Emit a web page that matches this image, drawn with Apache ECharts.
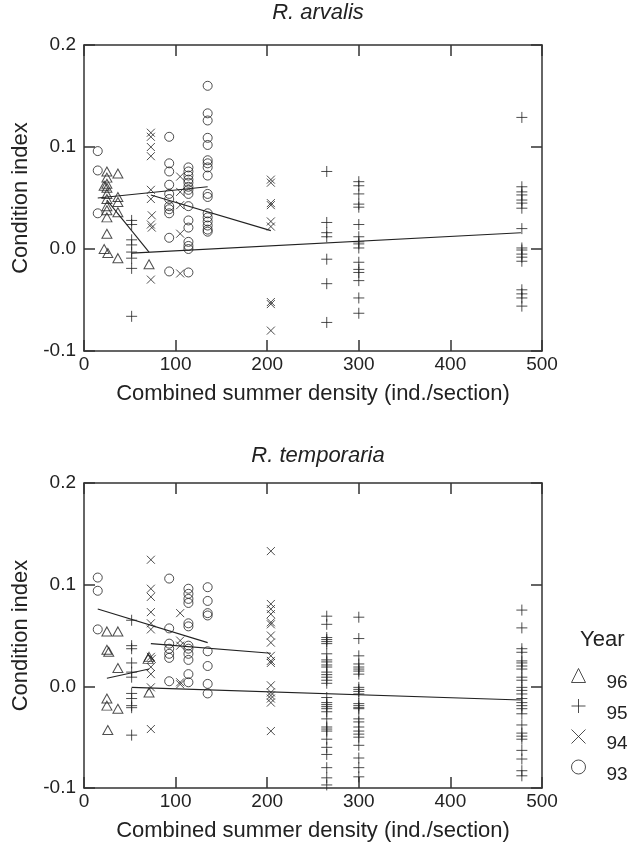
<!DOCTYPE html>
<html><head><meta charset="utf-8">
<script src="https://cdn.jsdelivr.net/npm/echarts@6/dist/echarts.min.js"></script>
<style>html,body{margin:0;padding:0;background:#fff}#c{width:630px;height:847px}</style>
</head><body><div id="c"></div>
<script>
const years = ['96', '95', '94', '93'];
const xTicks = [0, 100, 200, 300, 400, 500];
const yTicks = [-0.1, 0.0, 0.1, 0.2];
const panelTitles = ['R. arvalis', 'R. temporaria'];
const xTitle = 'Combined summer density (ind./section)';
const yTitle = 'Condition index';
const legendTitle = 'Year';

// ---- R. arvalis ----
const arv96 = [[25,0.076],[37,0.074],[25,0.070],[22,0.062],[25,0.064],[25,0.060],[25,0.054],[37,0.051],[25,0.049],[37,0.046],[25,0.042],[25,0.038],[37,0.036],[25,0.031],[25,0.015],[22,0.000],[26,-0.004],[37,-0.009],[71,-0.015]];
const arv95 = [[52,0.028],[52,0.024],[52,0.009],[52,0.004],[52,-0.003],[52,-0.009],[52,-0.019],[52,-0.066],
  [265,0.076],[265,0.026],[265,0.016],[265,0.012],[265,-0.010],[265,-0.034],[265,-0.072],
  [300,0.066],[300,0.062],[300,0.054],[300,0.044],[300,0.041],[300,0.024],[300,0.012],[300,0.007],[300,0.005],[300,0.001],[300,-0.013],[300,-0.020],[300,-0.023],[300,-0.031],[300,-0.048],[300,-0.063],
  [478,0.129],[478,0.061],[478,0.056],[478,0.053],[478,0.048],[478,0.045],[478,0.040],[478,0.020],[478,0.001],[478,-0.001],[478,-0.005],[478,-0.008],[478,-0.012],[478,-0.040],[478,-0.044],[478,-0.048],[478,-0.056]];
const arv94 = [[73,0.114],[73,0.110],[73,0.100],[73,0.091],[73,0.058],[73,0.049],[74,0.033],[73,0.024],[74,0.021],[73,-0.030],
  [105,0.071],[105,0.056],[105,0.043],[105,0.015],[105,-0.024],
  [204,0.068],[204,0.065],[204,0.045],[204,0.043],[204,0.027],[204,0.022],[204,-0.052],[204,-0.054],[204,-0.080]];
const arv93 = [[15,0.096],[15,0.077],[15,0.035],
  [93,0.110],[93,0.084],[93,0.076],[93,0.063],[93,0.054],[93,0.049],[93,0.042],[93,0.039],[93,0.035],[93,0.011],[93,-0.022],
  [114,0.080],[114,0.076],[114,0.072],[114,0.068],[114,0.065],[114,0.061],[114,0.058],[114,0.054],[114,0.042],[114,0.028],[114,0.021],[114,0.007],[114,0.003],[114,0.000],[114,-0.023],
  [135,0.160],[135,0.133],[135,0.126],[135,0.109],[135,0.102],[135,0.087],[135,0.084],[135,0.080],[135,0.072],[135,0.054],[135,0.051],[135,0.035],[135,0.031],[135,0.027],[135,0.023],[135,0.019],[135,0.017]];
const arvFit96 = [[25,0.048],[71,-0.003]];
const arvFit95 = [[52,-0.004],[477,0.016]];
const arvFit94 = [[73,0.053],[204,0.018]];
const arvFit93 = [[15,0.050],[135,0.061]];

// ---- R. temporaria ----
const tem96 = [[25,0.054],[37,0.054],[25,0.036],[27,0.034],[37,0.018],[25,-0.012],[25,-0.019],[37,-0.022],[26,-0.043],[71,0.029],[70,0.027],[71,-0.006]];
const tem95 = [[52,0.065],[52,0.040],[52,0.037],[52,0.023],[52,0.014],[52,0.009],[52,-0.007],[52,-0.012],[52,-0.019],[52,-0.021],[52,-0.048],
  [265,0.069],[265,0.061],[265,0.048],[265,0.046],[265,0.044],[265,0.042],[265,0.032],[265,0.026],[265,0.024],[265,0.021],[265,0.019],[265,0.014],[265,0.0115],[265,0.009],[265,0.006],[265,0.003],[265,-0.011],[265,-0.016],[265,-0.018],[265,-0.020],[265,-0.022],[265,-0.025],[265,-0.032],[265,-0.040],[265,-0.042],[265,-0.044],[265,-0.052],[265,-0.060],[265,-0.067],[265,-0.080],[265,-0.090],[265,-0.097],
  [300,0.068],[300,0.047],[300,0.030],[300,0.022],[300,0.019],[300,0.017],[300,0.015],[300,0.012],[300,-0.001],[300,-0.003],[300,-0.005],[300,-0.0075],[300,-0.017],[300,-0.019],[300,-0.021],[300,-0.022],[300,-0.032],[300,-0.035],[300,-0.040],[300,-0.044],[300,-0.047],[300,-0.050],[300,-0.058],[300,-0.0705],[300,-0.080],[300,-0.089],
  [478,0.075],[478,0.0575],[478,0.037],[478,0.0335],[478,0.025],[478,0.023],[478,0.020],[478,0.017],[478,0.009],[478,0.006],[478,-0.001],[478,-0.004],[478,-0.0075],[478,-0.012],[478,-0.016],[478,-0.019],[478,-0.022],[478,-0.027],[478,-0.038],[478,-0.046],[478,-0.049],[478,-0.052],[478,-0.063],[478,-0.0715],[478,-0.083],[478,-0.088]];
const tem94 = [[73,0.1245],[73,0.096],[73,0.088],[73,0.073],[73,0.062],[73,0.056],[73,0.029],[74,0.027],[73,0.019],[73,0.012],[73,-0.001],[73,-0.042],
  [105,0.072],[105,0.045],[105,0.040],[105,0.004],[105,0.002],
  [204,0.133],[204,0.081],[204,0.076],[204,0.071],[204,0.063],[204,0.061],[204,0.050],[204,0.043],[204,0.030],[204,0.025],[204,0.023],[204,0.001],[204,-0.006],[204,-0.009],[204,-0.012],[204,-0.016],[204,-0.044]];
const tem93 = [[15,0.107],[15,0.094],[15,0.056],
  [93,0.106],[93,0.057],[93,0.042],[93,0.037],[93,0.032],[93,0.028],[93,0.005],
  [114,0.096],[114,0.091],[114,0.086],[114,0.082],[114,0.062],[114,0.059],[114,0.040],[114,0.037],[114,0.032],[114,0.026],[114,0.012],[114,0.004],
  [135,0.0975],[135,0.084],[135,0.072],[135,0.0697],[135,0.0345],[135,0.020],[135,0.0024],[135,-0.007]];
const temFit96 = [[25,0.008],[71,0.017]];
const temFit95 = [[52,-0.001],[477,-0.0135]];
const temFit94 = [[73,0.042],[204,0.0325]];
const temFit93 = [[15,0.076],[135,0.043]];

const panels = [
  {pts: [arv96, arv95, arv94, arv93], fits: [arvFit96, arvFit95, arvFit94, arvFit93]},
  {pts: [tem96, tem95, tem94, tem93], fits: [temFit96, temFit95, temFit94, temFit93]}
];

const FONT = '"Liberation Sans", Arial, Helvetica, sans-serif';
const INK = '#222';
const symbols = ['triangle', 'path://M0,6L12,6M6,0L6,12', 'path://M0,0L10,10M10,0L0,10', 'circle'];
const sizes = [[10, 9], 11, 8, 9];
const hollow = {color: 'rgba(0,0,0,0)', borderColor: INK, borderWidth: 1};

const axisLineStyle = {color: '#333', width: 1.5};
const grids = [
  {left: 84, top: 45, width: 458, height: 306},
  {left: 84, top: 483, width: 458, height: 305}
];
const xAxes = [], yAxes = [], series = [];
grids.forEach((g, i) => {
  const common = {gridIndex: i, type: 'value', splitLine: {show: false},
    axisLine: {show: true, onZero: false, lineStyle: axisLineStyle},
    axisTick: {show: true, inside: true, length: 11, lineStyle: axisLineStyle}};
  xAxes.push(Object.assign({}, common, {position: 'bottom', min: xTicks[0], max: xTicks[xTicks.length - 1], interval: xTicks[1] - xTicks[0],
    axisLabel: {fontSize: 19, color: INK, fontFamily: FONT, margin: 4},
    name: xTitle, nameLocation: 'middle', nameGap: 32,
    nameTextStyle: {fontSize: 22, color: INK, fontFamily: FONT}}));
  xAxes.push(Object.assign({}, common, {position: 'top', min: xTicks[0], max: xTicks[xTicks.length - 1], interval: xTicks[1] - xTicks[0],
    axisLabel: {show: false}}));
  yAxes.push(Object.assign({}, common, {position: 'left', min: yTicks[0], max: yTicks[yTicks.length - 1], interval: 0.1,
    axisLabel: {fontSize: 19, color: INK, fontFamily: FONT, margin: 8, formatter: v => v.toFixed(1)},
    name: yTitle, nameLocation: 'middle', nameGap: 51,
    nameTextStyle: {fontSize: 22, color: INK, fontFamily: FONT}}));
  yAxes.push(Object.assign({}, common, {position: 'right', min: yTicks[0], max: yTicks[yTicks.length - 1], interval: 0.1,
    axisLabel: {show: false}}));
  const p = panels[i];
  years.forEach((yr, k) => {
    series.push({type: 'scatter', name: yr, xAxisIndex: 2 * i, yAxisIndex: 2 * i,
      data: p.pts[k], symbol: symbols[k], symbolSize: sizes[k], itemStyle: hollow,
      emphasis: {disabled: true}, z: 3});
    series.push({type: 'line', name: 'fit' + yr, xAxisIndex: 2 * i, yAxisIndex: 2 * i,
      data: p.fits[k], symbol: 'none', lineStyle: {color: '#222', width: 1.1}, z: 2, silent: true});
  });
});

const chart = echarts.init(document.getElementById('c'), null, {renderer: 'canvas'});
chart.setOption({
  animation: false,
  backgroundColor: '#fff',
  title: [
    {text: panelTitles[0], left: 313, top: -3, textAlign: 'center',
      textStyle: {fontSize: 22, fontStyle: 'italic', fontWeight: 'normal', color: INK, fontFamily: FONT}},
    {text: panelTitles[1], left: 313, top: 440, textAlign: 'center',
      textStyle: {fontSize: 22, fontStyle: 'italic', fontWeight: 'normal', color: INK, fontFamily: FONT}},
    {text: legendTitle, left: 575, top: 624,
      textStyle: {fontSize: 22, fontWeight: 'normal', color: INK, fontFamily: FONT}}
  ],
  legend: {
    orient: 'vertical', left: 566, top: 663, itemWidth: 14, itemHeight: 14, itemGap: 6,
    selectedMode: false,
    data: years.map((y, k) => ({name: y, icon: symbols[k], itemStyle: hollow})),
    formatter: '{t|{name}}',
    textStyle: {color: INK, fontFamily: FONT, fontSize: 19,
      rich: {t: {fontSize: 19, color: INK, fontFamily: FONT, padding: [15, 0, 0, 16]}}}
  },
  grid: grids,
  xAxis: xAxes,
  yAxis: yAxes,
  series: series
});
</script></body></html>
